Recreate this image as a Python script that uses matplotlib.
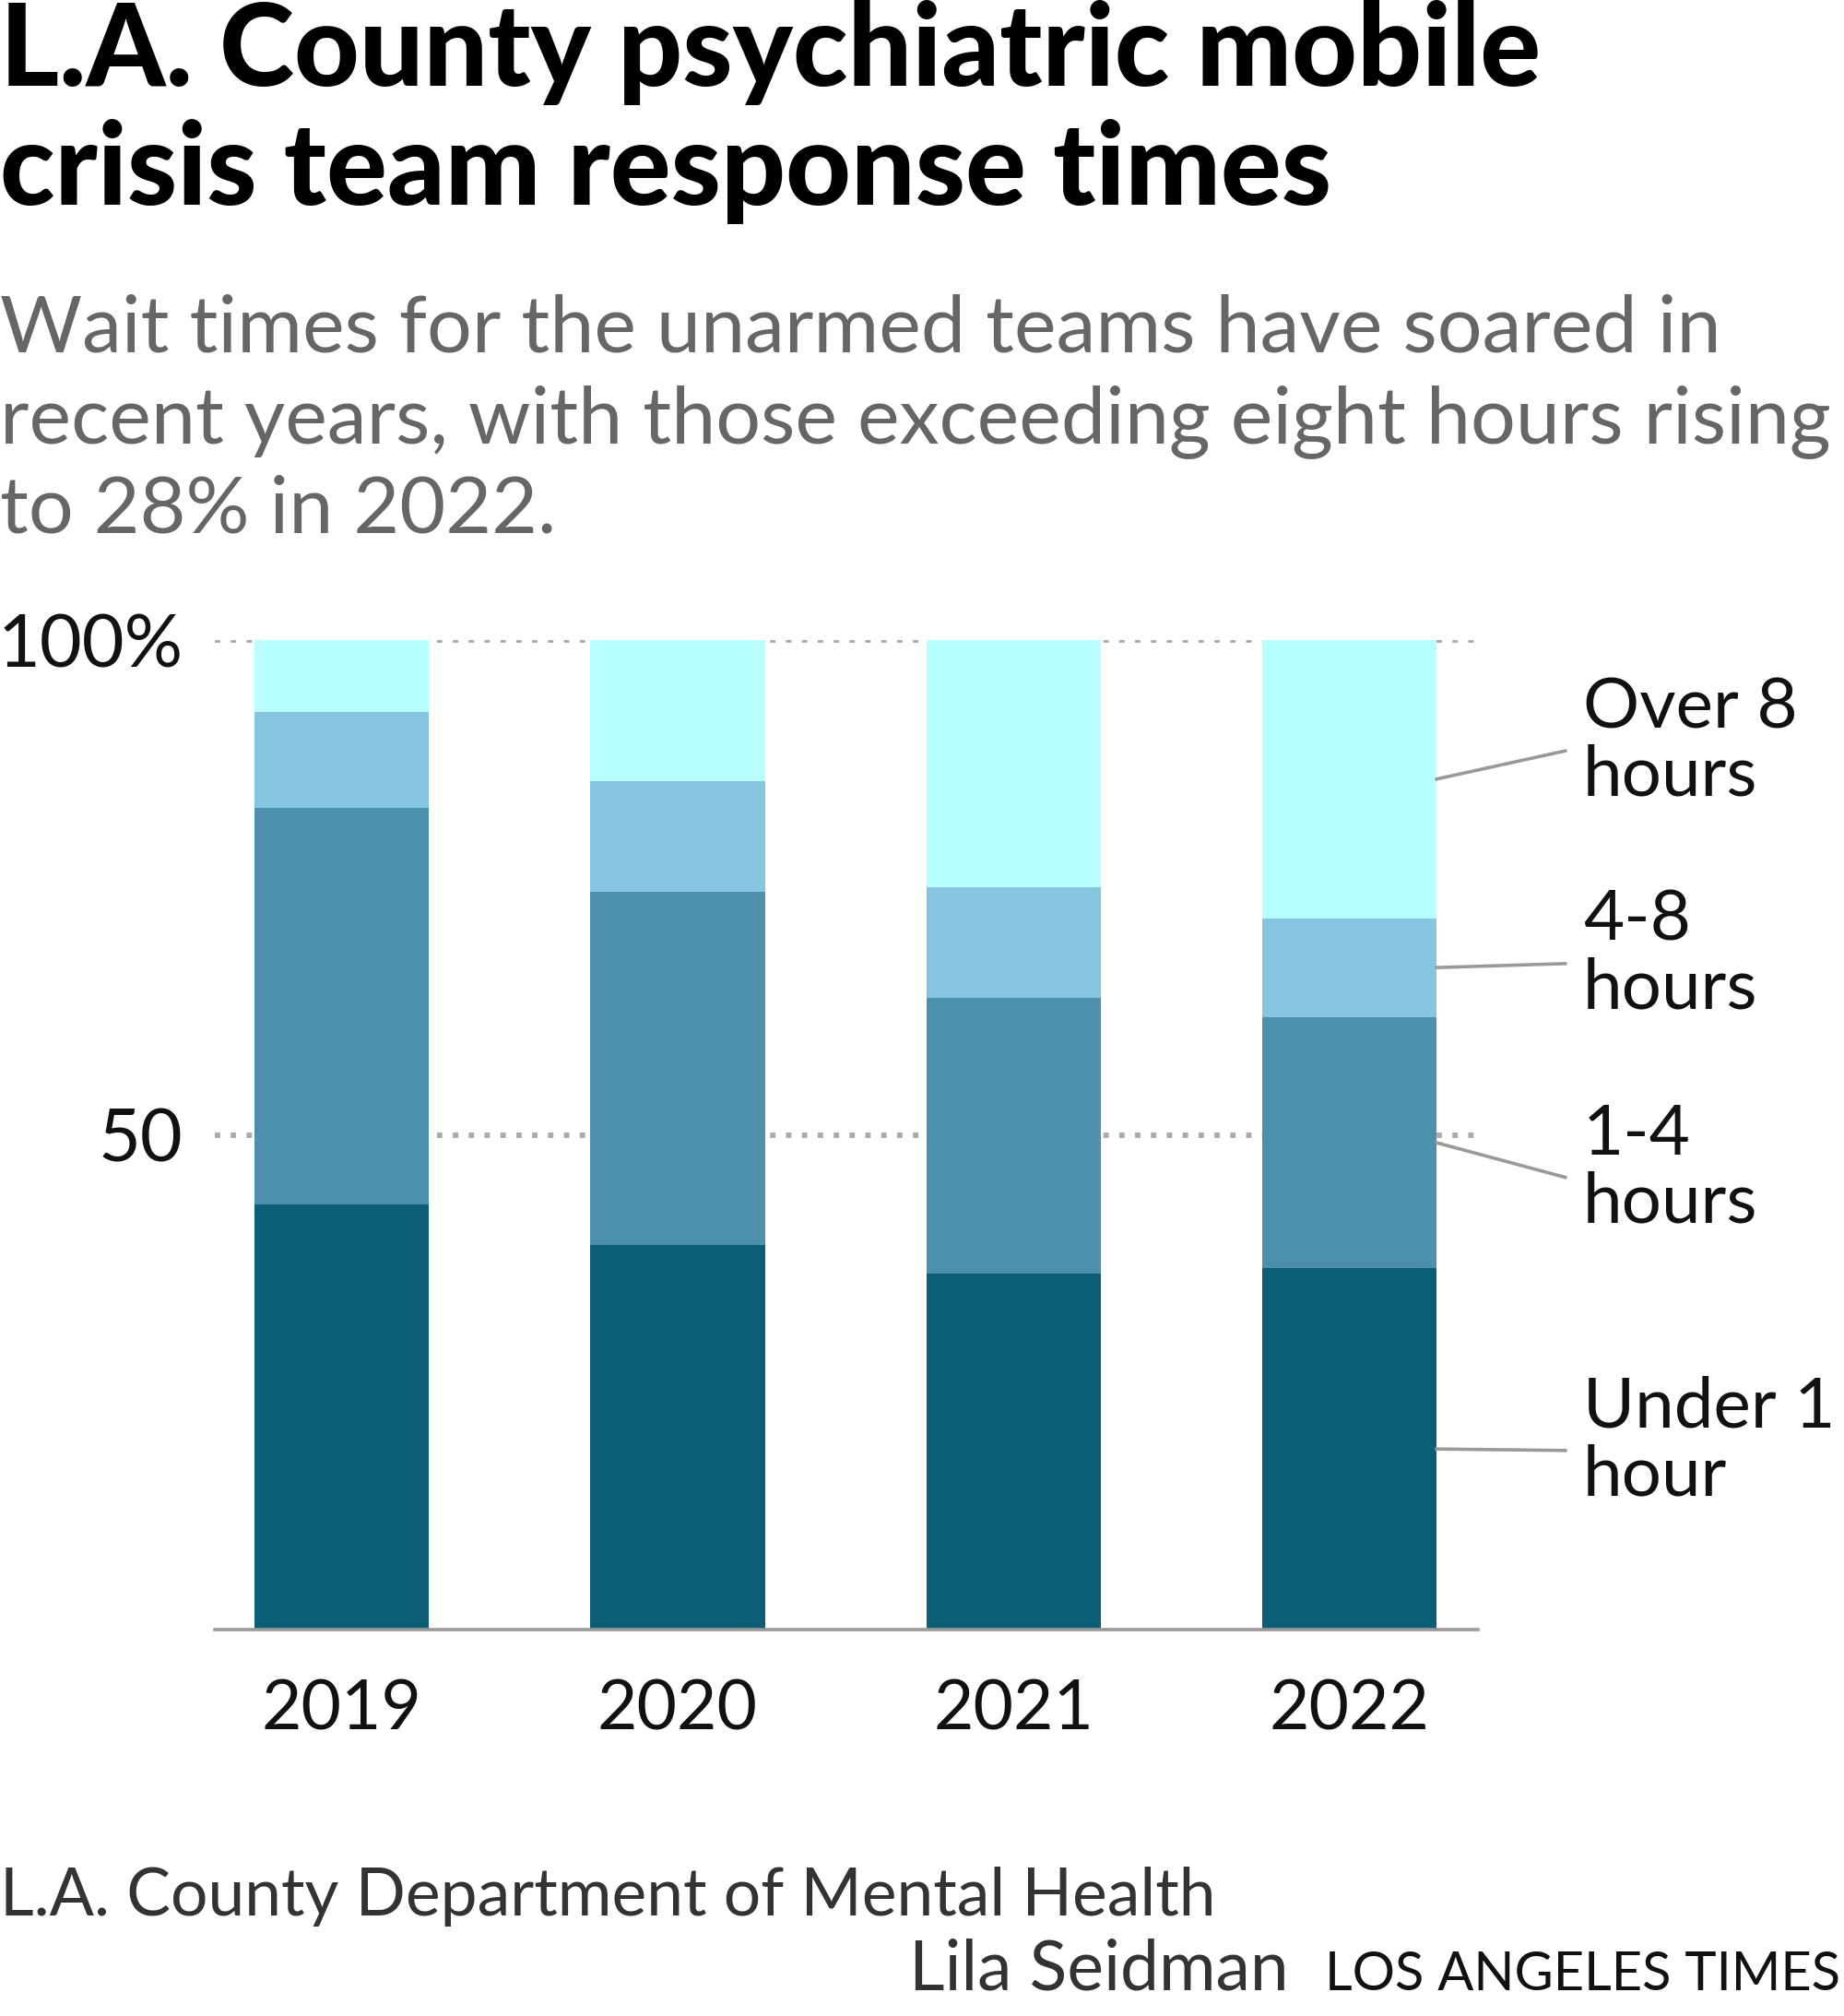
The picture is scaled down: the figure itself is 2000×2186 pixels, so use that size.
import matplotlib
matplotlib.use("Agg")
import matplotlib.pyplot as plt
import numpy as np

years = ["2019", "2020", "2021", "2022"]
categories = ["Under 1\nhour", "1-4\nhours", "4-8\nhours", "Over 8\nhours"]
under_1 = [43.0, 38.9, 36.0, 36.5]
one_to_four = [40.0, 35.7, 27.8, 25.4]
four_to_eight = [9.7, 11.1, 11.2, 10.0]
over_eight = [7.3, 14.3, 25.0, 28.1]
series = [under_1, one_to_four, four_to_eight, over_eight]
colors = ["#0b5e75", "#4e90ab", "#85c5de", "#baffff"]

W, H = 2000, 2186
fig = plt.figure(figsize=(W / 100, H / 100), dpi=100)
FONT = "Lato"

def fx(x):
    return x / W

def fy(y):
    return 1 - y / H

ax_l, ax_r, ax_t, ax_b = 233, 1603, 694, 1767
ax = fig.add_axes([fx(ax_l), fy(ax_b), fx(ax_r) - fx(ax_l), fy(ax_t) - fy(ax_b)])

x = np.arange(len(years))
bw = 0.52
bottom = np.zeros(len(years))
for vals, c in zip(series, colors):
    ax.bar(x, vals, bw, bottom=bottom, color=c, zorder=3, linewidth=0)
    bottom += np.array(vals)

ax.set_xlim(-0.378, 3.383)
ax.set_ylim(0, 100)
for s in ["top", "right", "left"]:
    ax.spines[s].set_visible(False)
ax.spines["bottom"].set_color("#999999")
ax.spines["bottom"].set_linewidth(2.6)
ax.spines["bottom"].set_zorder(4)

ax.set_yticks([50, 100])
ax.set_yticklabels(["50", "100%"], fontfamily=FONT, fontsize=57, color="#111111")
ax.tick_params(axis="y", length=0, pad=25)
ax.set_xticks(x)
ax.set_xticklabels(years, fontfamily=FONT, fontsize=54, color="#111111")
ax.tick_params(axis="x", length=0, pad=38)
ax.yaxis.grid(True, linestyle=(0, (1, 1.95)), color="#aaaaaa", linewidth=4.2, zorder=1)
ax.set_axisbelow(True)

# Leader lines and labels for the last bar
last = len(years) - 1
label_y = [18.1, 45.7, 67.3, 88.8]
bx = x[last] + bw / 2
cum = 0
for vals, lab, ly in zip(series, categories, label_y):
    mid = cum + vals[last] / 2
    cum += vals[last]
    ax.plot([bx, 3.643], [mid, ly], color="#999999", linewidth=2.6, clip_on=False, zorder=5)
    ax.text(3.695, ly + 0.9, lab, fontfamily=FONT, fontsize=55, color="#111111",
            va="center", ha="left", linespacing=1.08)

# Title
fig.text(fx(0), fy(93), "L.A. County psychiatric mobile", fontfamily=FONT, fontweight="black",
         fontsize=88.5, color="#000000", va="baseline", ha="left")
fig.text(fx(0), fy(222), "crisis team response times", fontfamily=FONT, fontweight="black",
         fontsize=88.5, color="#000000", va="baseline", ha="left")

sub = ["Wait times for the unarmed teams have soared in",
       "recent years, with those exceeding eight hours rising",
       "to 28% in 2022."]
for yy, s in zip([381, 480, 578], sub):
    fig.text(fx(0), fy(yy), s, fontfamily=FONT, fontsize=62, color="#666666",
             va="baseline", ha="left")

fig.text(fx(0), fy(2077), "L.A. County Department of Mental Health", fontfamily=FONT,
         fontsize=51.5, color="#333333", va="baseline", ha="left")
fig.text(fx(1996), fy(2158), "LOS ANGELES TIMES", fontfamily=FONT, fontsize=41.7,
         color="#111111", va="baseline", ha="right")
fig.text(fx(1398), fy(2158), "Lila Seidman", fontfamily=FONT, fontsize=54,
         color="#333333", va="baseline", ha="right")

fig.savefig("out.png", dpi=100, facecolor="white")
